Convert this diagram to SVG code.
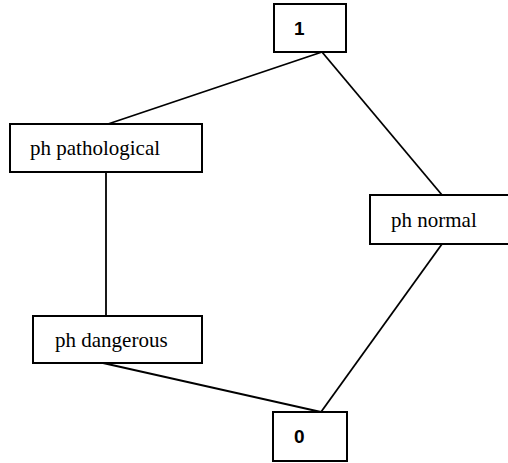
<svg xmlns="http://www.w3.org/2000/svg" width="508" height="463" viewBox="0 0 508 463">
<style>
.box{fill:#fff;stroke:#000;stroke-width:2}
.edge{stroke:#000;stroke-width:1.8;fill:none}
.lbl{font-family:"Liberation Serif","Times New Roman",serif;font-size:21px;fill:#000}
.num{font-family:"Liberation Sans",Arial,sans-serif;font-size:19px;font-weight:bold;fill:#000}
</style>
<rect width="508" height="463" fill="#fff"/>
<g id="connectors">
<line class="edge" x1="322" y1="52" x2="108" y2="124"/>
<line class="edge" x1="322" y1="52" x2="442" y2="195"/>
<line class="edge" x1="106" y1="172" x2="106" y2="316"/>
<line class="edge" x1="103" y1="363" x2="321" y2="412"/>
<line class="edge" x1="442" y1="244" x2="321" y2="412"/>
</g>
<g id="node-1">
<rect class="box" x="274" y="4" width="72" height="48"/>
<text class="num" x="294" y="35">1</text>
</g>
<g id="node-pathological">
<rect class="box" x="10" y="124" width="192" height="48"/>
<text class="lbl" x="30" y="155">ph pathological</text>
</g>
<g id="node-normal">
<rect class="box" x="370" y="195" width="142" height="49"/>
<text class="lbl" x="391" y="227">ph normal</text>
</g>
<g id="node-dangerous">
<rect class="box" x="33" y="316" width="169" height="47"/>
<text class="lbl" x="55" y="347">ph dangerous</text>
</g>
<g id="node-0">
<rect class="box" x="273" y="412" width="74" height="49"/>
<text class="num" x="294" y="443">0</text>
</g>
</svg>
